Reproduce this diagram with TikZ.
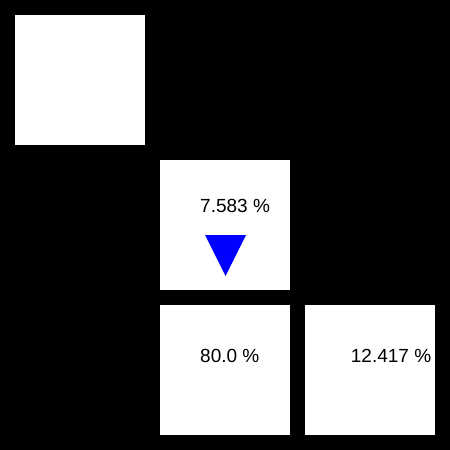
\documentclass[tikz,border=0pt]{standalone}
\usepackage{fontspec}
\setmainfont{Liberation Sans}
\usetikzlibrary{positioning}
\definecolor{cCell}{RGB}{255,255,255}
\definecolor{cMark}{RGB}{0,0,255}

\begin{document}
\begin{tikzpicture}[x=1pt,y=-1pt,
    pct/.style={anchor=base west,inner sep=0pt,font=\fontsize{19}{19}\selectfont}]
  \fill[black] (0,0) rectangle (450,450);
  \foreach \x/\y in {15/15,160/160,160/305,305/305} {
    \fill[cCell] (\x,\y) rectangle ++(130,130);
  }
  \node[pct] (pUp) at (200,212) {7.583 \%};
  \node[pct] (pMid) at (200,362) {80.0 \%};
  \node[pct] (pRight) at (350.7,362) {12.417 \%};
  \fill[cMark] (205,235) -- (246,235) -- (225.5,276) -- cycle;
\end{tikzpicture}
\end{document}
